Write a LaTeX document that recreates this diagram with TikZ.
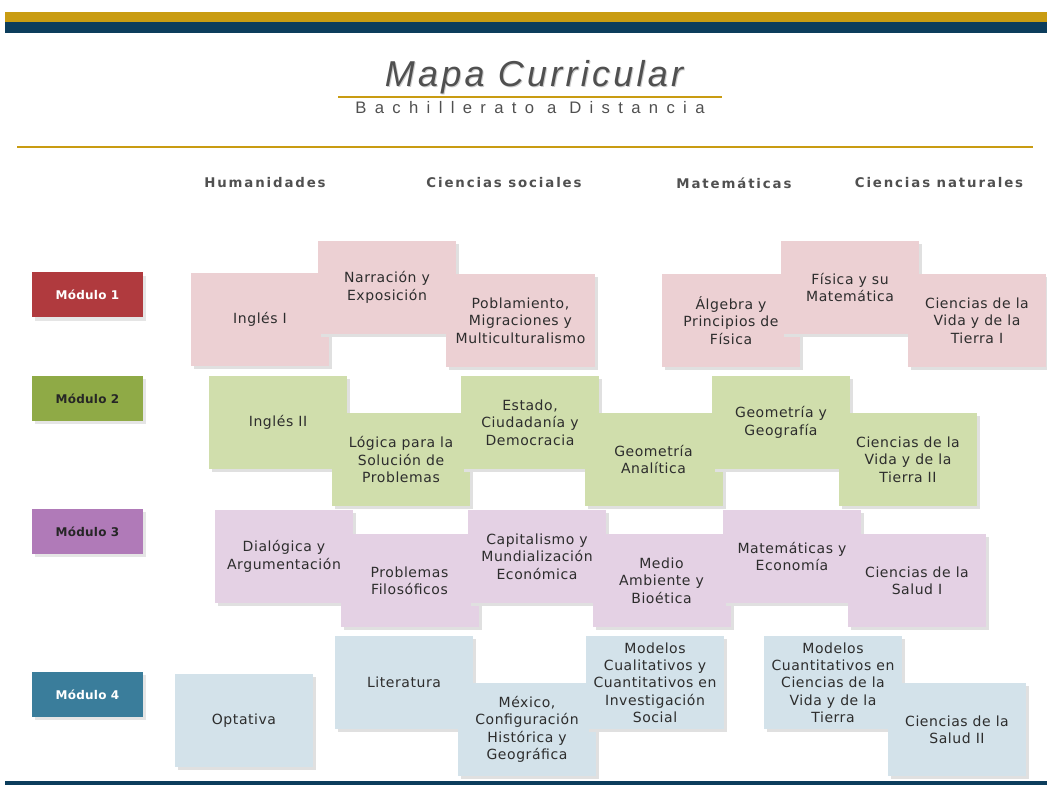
\documentclass[tikz,border=0pt]{standalone}
\usepackage{fontspec}
\setmainfont{DejaVu Sans}[LetterSpace=4]
\newfontfamily\titlefont{Liberation Sans}[LetterSpace=9]
\newfontfamily\subfont{Liberation Sans}[LetterSpace=50]
\newfontfamily\headfont{DejaVu Sans}[LetterSpace=14]
\newfontfamily\modfont{DejaVu Sans}[LetterSpace=2]
\usetikzlibrary{shadows}
\definecolor{goldbar}{RGB}{201,156,18}
\definecolor{navybar}{RGB}{12,61,92}
\definecolor{titlegray}{RGB}{80,80,80}
\definecolor{txtgray}{RGB}{45,45,45}
\definecolor{pinkbox}{RGB}{236,208,211}
\definecolor{greenbox}{RGB}{208,222,172}
\definecolor{lilacbox}{RGB}{228,209,228}
\definecolor{bluebox}{RGB}{211,226,234}
\definecolor{modred}{RGB}{176,58,62}
\definecolor{modgreen}{RGB}{143,170,70}
\definecolor{modlilac}{RGB}{176,122,184}
\definecolor{modblue}{RGB}{58,125,155}

\begin{document}
\begin{tikzpicture}[x=0.75pt, y=-0.75pt,
    subj/.style={fill=#1, minimum width=103.5pt, minimum height=69.75pt, inner sep=0pt,
                 align=center, text=txtgray, font=\fontsize{10.5}{13}\selectfont,
                 general shadow={fill=black!12, shadow xshift=2.5pt, shadow yshift=-2.5pt}},
    modlabel/.style={fill=#1, minimum width=83.25pt, minimum height=33.75pt, inner sep=0pt,
                 font=\modfont\bfseries\fontsize{9}{10}\selectfont,
                 general shadow={fill=black!10, shadow xshift=2.5pt, shadow yshift=-2.5pt}},
    colhead/.style={text=titlegray, font=\headfont\bfseries\fontsize{10}{12}\selectfont}]
  \useasboundingbox (0,0) rectangle (1047,788);
  \fill[goldbar] (5,12) rectangle (1047,22);
  \fill[navybar] (5,22) rectangle (1047,33);
  \node[text=black!20, font=\titlefont\itshape\fontsize{27}{27}\selectfont] at (535,78)
    {Mapa Curricular};
  \node[text=titlegray, font=\titlefont\itshape\fontsize{27}{27}\selectfont] (title) at (534,77)
    {Mapa Curricular};
  \draw[goldbar, line width=1.5pt] (338,97) -- (722,97);
  \node[text=titlegray, font=\subfont\fontsize{12.5}{13}\selectfont] (subtitle) at (530,108)
    {Bachillerato a Distancia};
  \draw[goldbar, line width=1.8pt] (17,147) -- (1033,147);

  \node[colhead] (hum) at (265,183) {Humanidades};
  \node[colhead] (soc) at (504,183) {Ciencias sociales};
  \node[colhead] (mat) at (734,183) {Matemáticas};
  \node[colhead] (nat) at (939,183) {Ciencias naturales};

  \node[modlabel=modred, text=white] (mod1) at (87.5,295) {Módulo 1};
  \node[modlabel=modgreen, text=black!85] (mod2) at (87.5,398.5) {Módulo 2};
  \node[modlabel=modlilac, text=black!85] (mod3) at (87.5,531.5) {Módulo 3};
  \node[modlabel=modblue, text=white] (mod4) at (87.5,694.5) {Módulo 4};

  \node[subj=pinkbox] (inglesI) at (260,319.5) {Inglés I};
  \node[subj=pinkbox] (narracion) at (387,287.5) {Narración y\\Exposición};
  \node[subj=pinkbox, minimum width=111.75pt] (poblamiento) at (520.5,320.5)
    {Poblamiento,\\Migraciones y\\Multiculturalismo};
  \node[subj=pinkbox] (algebra) at (731,320.5) {Álgebra y\\Principios de\\Física};
  \node[subj=pinkbox] (fisica) at (850,287.5) {Física y su\\Matemática};
  \node[subj=pinkbox] (vidaI) at (977,320.5) {Ciencias de la\\Vida y de la\\Tierra I};

  \node[subj=greenbox] (inglesII) at (278,422.5) {Inglés II};
  \node[subj=greenbox] (logica) at (401,459.5) {Lógica para la\\Solución de\\Problemas};
  \node[subj=greenbox] (estado) at (530,422.5) {Estado,\\Ciudadanía y\\Democracia};
  \node[subj=greenbox] (geoanalitica) at (653.5,459.5) {Geometría\\Analítica};
  \node[subj=greenbox] (geogeografia) at (781,422.5) {Geometría y\\Geografía};
  \node[subj=greenbox] (vidaII) at (908,459.5) {Ciencias de la\\Vida y de la\\Tierra II};

  \node[subj=lilacbox] (dialogica) at (284,556.5) {Dialógica y\\Argumentación};
  \node[subj=lilacbox] (problemas) at (409.5,580.5) {Problemas\\Filosóficos};
  \node[subj=lilacbox] (capitalismo) at (537,556.5) {Capitalismo y\\Mundialización\\Económica};
  \node[subj=lilacbox] (medio) at (661.5,580.5) {Medio\\Ambiente y\\Bioética};
  \node[subj=lilacbox] (mateco) at (792,556.5) {Matemáticas y\\Economía};
  \node[subj=lilacbox] (saludI) at (917,580.5) {Ciencias de la\\Salud I};

  \node[subj=bluebox] (optativa) at (244,720.5) {Optativa};
  \node[subj=bluebox] (literatura) at (404,682.5) {Literatura};
  \node[subj=bluebox] (mexico) at (527,729.5) {México,\\Configuración\\Histórica y\\Geográfica};
  \node[subj=bluebox] (cualitativos) at (655,682.5)
    {Modelos\\Cualitativos y\\Cuantitativos en\\Investigación\\Social};
  \node[subj=bluebox] (cuantitativos) at (833,682.5)
    {Modelos\\Cuantitativos en\\Ciencias de la\\Vida y de la\\Tierra};
  \node[subj=bluebox] (saludII) at (957,729.5) {Ciencias de la\\Salud II};

  \draw[navybar, line width=2.5pt] (5,783) -- (1047,783);
\end{tikzpicture}
\end{document}
